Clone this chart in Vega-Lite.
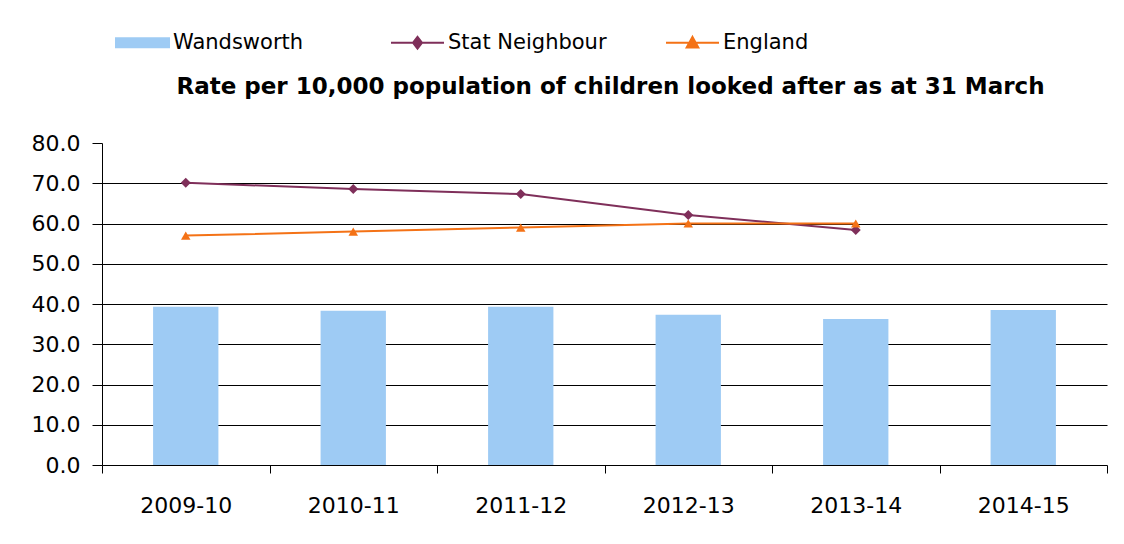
{
  "$schema": "https://vega.github.io/schema/vega-lite/v6.json",
  "autosize": {"type": "none"},
  "width": 1005,
  "height": 322,
  "padding": {"left": 102, "top": 143, "right": 17, "bottom": 79},
  "background": "white",
  "config": {
    "font": "DejaVu Sans",
    "view": {"stroke": null},
    "axis": {"labelFont": "DejaVu Sans", "labelFontSize": 21, "labelColor": "#000000"}
  },
  "title": {
    "text": "Rate per 10,000 population of children looked after as at 31 March",
    "font": "DejaVu Sans",
    "fontSize": 23,
    "fontWeight": "bold",
    "color": "#000000",
    "anchor": "middle",
    "frame": "group",
    "offset": -84,
    "dx": 6
  },
  "data": {
    "values": [
      {"year": "2009-10", "series": "Wandsworth", "value": 39.3},
      {"year": "2010-11", "series": "Wandsworth", "value": 38.3},
      {"year": "2011-12", "series": "Wandsworth", "value": 39.3},
      {"year": "2012-13", "series": "Wandsworth", "value": 37.3},
      {"year": "2013-14", "series": "Wandsworth", "value": 36.3},
      {"year": "2014-15", "series": "Wandsworth", "value": 38.5},
      {"year": "2009-10", "series": "Stat Neighbour", "value": 70.1},
      {"year": "2010-11", "series": "Stat Neighbour", "value": 68.6},
      {"year": "2011-12", "series": "Stat Neighbour", "value": 67.3},
      {"year": "2012-13", "series": "Stat Neighbour", "value": 62.1},
      {"year": "2013-14", "series": "Stat Neighbour", "value": 58.4},
      {"year": "2009-10", "series": "England", "value": 57.0},
      {"year": "2010-11", "series": "England", "value": 58.0},
      {"year": "2011-12", "series": "England", "value": 59.0},
      {"year": "2012-13", "series": "England", "value": 60.0},
      {"year": "2013-14", "series": "England", "value": 60.0}
    ]
  },
  "encoding": {
    "x": {
      "field": "year",
      "type": "ordinal",
      "scale": {"paddingInner": 0, "paddingOuter": 0},
      "axis": {
        "title": null,
        "labelAngle": 0,
        "labelPadding": 22,
        "labelFontSize": 22,
        "tickBand": "extent",
        "tickSize": 8,
        "tickColor": "#000000",
        "domainColor": "#000000",
        "grid": false
      }
    },
    "y": {
      "field": "value",
      "type": "quantitative",
      "scale": {"domain": [0, 80]},
      "axis": {
        "title": null,
        "values": [0, 10, 20, 30, 40, 50, 60, 70, 80],
        "format": ".1f",
        "labelFontSize": 22,
        "tickSize": 10,
        "labelPadding": 12,
        "tickColor": "#000000",
        "domainColor": "#000000",
        "grid": true,
        "gridColor": "#000000",
        "gridWidth": 1,
        "gridOpacity": {"condition": {"test": "datum.value == 80 || datum.value == 0", "value": 0}, "value": 1}
      }
    }
  },
  "layer": [
    {
      "transform": [{"filter": "datum.series == 'Wandsworth'"}],
      "mark": {"type": "bar", "width": {"band": 0.39}, "color": "#9ecbf4"}
    },
    {
      "transform": [{"filter": "datum.series != 'Wandsworth'"}],
      "mark": {"type": "line", "strokeWidth": 2},
      "encoding": {
        "color": {
          "field": "series",
          "type": "nominal",
          "scale": {"domain": ["Wandsworth", "Stat Neighbour", "England"], "range": ["#9ecbf4", "#7f2f5a", "#f47216"]}
        },
        "detail": {"field": "series"}
      }
    },
    {
      "transform": [{"filter": "datum.series == 'Stat Neighbour'"}],
      "mark": {"type": "point", "shape": "diamond", "filled": true, "opacity": 1, "size": 100, "color": "#7f2f5a"}
    },
    {
      "transform": [{"filter": "datum.series == 'England'"}],
      "mark": {"type": "point", "shape": "triangle-up", "filled": true, "opacity": 1, "size": 90, "color": "#f47216"}
    },
    {
      "transform": [{"filter": "false"}],
      "mark": {"type": "point", "filled": true, "opacity": 1},
      "encoding": {
        "color": {
          "field": "series",
          "type": "nominal",
          "scale": {"domain": ["Wandsworth", "Stat Neighbour", "England"], "range": ["#9ecbf4", "#7f2f5a", "#f47216"]},
          "legend": {
            "title": null,
            "orient": "none",
            "legendX": 13,
            "legendY": -128,
            "direction": "horizontal",
            "gridAlign": "all",
            "symbolSize": 2809,
            "symbolStrokeWidth": 2,
            "columnPadding": 55,
            "labelFont": "DejaVu Sans",
            "labelFontSize": 21,
            "labelColor": "#000000",
            "labelOffset": 3,
            "encode": {"symbols": {"update": {"stroke": {"scale": "color", "field": "value"}, "strokeWidth": {"value": 2}}}}
          }
        },
        "shape": {
          "field": "series",
          "type": "nominal",
          "scale": {
            "domain": ["Wandsworth", "Stat Neighbour", "England"],
            "range": [
              "M-1,-0.17H1V0.17H-1Z",
              "M-1,0H1M0,-0.22L0.17,0L0,0.22L-0.17,0Z",
              "M-1,0H1M0,-0.22L0.22,0.18L-0.22,0.18Z"
            ]
          },
          "legend": {
            "title": null,
            "orient": "none",
            "legendX": 13,
            "legendY": -128,
            "direction": "horizontal",
            "gridAlign": "all",
            "symbolSize": 2809,
            "columnPadding": 55,
            "labelFontSize": 21
          }
        }
      }
    }
  ]
}
